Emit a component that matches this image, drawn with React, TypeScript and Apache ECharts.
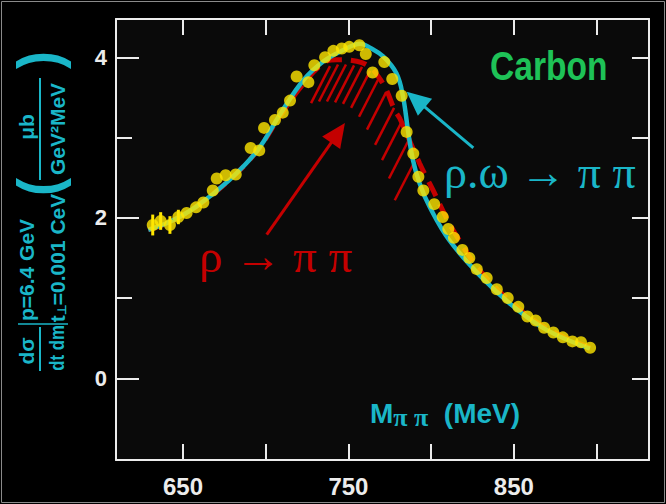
import React, { useEffect, useRef } from "react";
import * as echarts from "echarts";

// ---- measured data (M_pipi in MeV, cross section) ----
const massPoints = [
  631.7, 636.5, 642.1, 647.2, 652.2, 657.9, 662.3, 668.0, 670.4, 675.8, 681.9,
  690.9, 696.1, 699.0, 705.6, 710.3, 714.7, 718.7, 725.8, 729.4, 735.9, 740.9,
  746.0, 750.5, 756.6, 760.5, 764.6, 771.7, 776.5, 782.2, 785.2, 789.2, 792.3,
  795.3, 801.9, 807.0, 810.4, 813.8, 818.9, 823.1, 827.6, 833.6, 839.7, 846.3,
  852.7, 858.2, 863.2, 868.3, 873.9, 879.6, 885.4, 890.6, 896.1,
];
const crossSection = [
  1.91, 1.96, 1.91, 2.01, 2.06, 2.13, 2.19, 2.34, 2.49, 2.53, 2.54,
  2.87, 2.84, 3.12, 3.22, 3.31, 3.46, 3.76, 3.69, 3.90, 4.0, 4.08,
  4.11, 4.13, 4.15, 4.04, 3.81, 3.94, 3.73, 3.52, 3.07, 2.80, 2.51,
  2.34, 2.17, 2.01, 1.86, 1.75, 1.60, 1.50, 1.36, 1.25, 1.11, 1.00,
  0.89, 0.77, 0.72, 0.63, 0.57, 0.51, 0.46, 0.45, 0.38,
];
const errorMass = [631.7, 636.5, 642.1, 647.2];
const errorValue = [1.91, 1.96, 1.91, 2.01];
const errorSize = [0.13, 0.11, 0.11, 0.09];

// rho.omega -> pi pi fit (teal)
const fitMass = [629, 642, 658, 678, 695, 709, 723, 735, 747, 757, 763, 771, 779, 783, 786, 789, 793, 799, 811, 830, 850, 870, 896];
const fitValues = [1.85, 1.95, 2.14, 2.47, 2.84, 3.30, 3.72, 3.95, 4.09, 4.17, 4.12, 4.01, 3.80, 3.51, 3.09, 2.72, 2.43, 2.14, 1.72, 1.27, 0.89, 0.60, 0.37];

// rho -> pi pi only (red dashed)
const rhoMass = [629, 642, 658, 678, 695, 709, 722, 735, 743, 755, 763, 768, 773, 778, 781, 787, 793, 797, 801, 809, 817, 830, 850, 870, 896];
const rhoValues = [1.85, 1.95, 2.14, 2.47, 2.84, 3.28, 3.65, 3.93, 3.97, 3.95, 3.88, 3.76, 3.59, 3.34, 3.24, 2.96, 2.68, 2.51, 2.35, 2.01, 1.72, 1.33, 0.92, 0.62, 0.38];

// hatch line tops (red shaded area)
const hatchMass = [738.9, 743.7, 748.5, 753.4, 758.2, 763.1, 767.9, 772.7, 777.6, 781.8, 786.0, 789.5];
const hatchTop = [3.89, 3.91, 3.91, 3.90, 3.88, 3.83, 3.72, 3.56, 3.37, 3.18, 2.95, 2.68];

// annotation arrows [fromX, fromY, toX, toY]
const rhoArrow = [700.6, 1.79, 747.9, 3.18];
const rhoOmegaArrow = [825.5, 2.87, 785.2, 3.57];

const xTicks = [650, 700, 750, 800, 850, 900];
const xLabels = [650, 750, 850];
const yTicks = [0, 1, 2, 3, 4];
const yLabels = [0, 2, 4];
const xMin = 609.5;
const xMax = 931.7;
const yMin = -1.018;
const yMax = 4.477;

const TEAL = "#1ab6c8";
const RED = "#c40000";
const YELLOW = "#ffe600";
const GREEN = "#1ec257";
const WHITE = "#ececec";
const SANS = "'Liberation Sans', Arial, Helvetica, sans-serif";
const SERIF = "'Liberation Serif', 'Times New Roman', 'DejaVu Serif', serif";

function arrowRender(color: string) {
  return (params: any, api: any) => {
    const p1 = api.coord([api.value(0), api.value(1)]);
    const p2 = api.coord([api.value(2), api.value(3)]);
    const dx = p2[0] - p1[0];
    const dy = p2[1] - p1[1];
    const len = Math.sqrt(dx * dx + dy * dy);
    const ux = dx / len;
    const uy = dy / len;
    const L = 24;
    const W = 11;
    const bx = p2[0] - ux * L;
    const by = p2[1] - uy * L;
    return {
      type: "group",
      children: [
        { type: "line", shape: { x1: p1[0], y1: p1[1], x2: bx + ux * 2, y2: by + uy * 2 }, style: { stroke: color, lineWidth: 3 } },
        {
          type: "polygon",
          shape: { points: [[p2[0], p2[1]], [bx - uy * W, by + ux * W], [bx + uy * W, by - ux * W]] },
          style: { fill: color },
        },
      ],
    };
  };
}

const rot = Math.PI / 2;

export default function App() {
  const ref = useRef<HTMLDivElement>(null);
  useEffect(() => {
    if (!ref.current) return;
    const chart = echarts.init(ref.current, undefined, { renderer: "svg" });
    const axisLineStyle = { color: WHITE, width: 2 };
    const baseX = { type: "value", min: xMin, max: xMax, splitLine: { show: false } };
    const baseY = { type: "value", min: yMin, max: yMax, splitLine: { show: false } };
    const option: any = {
      animation: false,
      backgroundColor: "#000000",
      grid: { left: 116, top: 19, width: 533, height: 441, show: true, backgroundColor: "#0a0a0a", borderWidth: 0 },
      xAxis: [
        {
          ...baseX,
          position: "bottom",
          axisLine: { show: true, onZero: false, lineStyle: axisLineStyle },
          axisTick: { show: true, inside: true, length: 16, customValues: xTicks, lineStyle: axisLineStyle },
          axisLabel: {
            show: true,
            customValues: xLabels,
            formatter: (v: number) => String(v),
            color: WHITE,
            fontSize: 24,
            fontWeight: "bold",
            fontFamily: SANS,
            margin: 14,
          },
        },
        {
          ...baseX,
          position: "top",
          axisLine: { show: true, onZero: false, lineStyle: axisLineStyle },
          axisTick: { show: true, inside: true, length: 16, customValues: xTicks, lineStyle: axisLineStyle },
          axisLabel: { show: false },
        },
      ],
      yAxis: [
        {
          ...baseY,
          position: "left",
          axisLine: { show: true, onZero: false, lineStyle: axisLineStyle },
          axisTick: { show: true, inside: true, length: 16, customValues: yTicks, lineStyle: axisLineStyle },
          axisLabel: {
            show: true,
            customValues: yLabels,
            formatter: (v: number) => String(v),
            color: WHITE,
            fontSize: 22,
            fontWeight: "bold",
            fontFamily: SANS,
            margin: 9,
          },
        },
        {
          ...baseY,
          position: "left",
          axisLine: { show: false },
          axisTick: { show: true, inside: true, length: 23, customValues: yLabels, lineStyle: axisLineStyle },
          axisLabel: { show: false },
        },
        {
          ...baseY,
          position: "right",
          axisLine: { show: true, onZero: false, lineStyle: axisLineStyle },
          axisTick: { show: true, inside: true, length: 17, customValues: yTicks, lineStyle: axisLineStyle },
          axisLabel: { show: false },
        },
      ],
      series: [
        {
          type: "custom",
          name: "hatch",
          z: 1,
          data: hatchMass.map((m, i) => [m, hatchTop[i]]),
          encode: { x: 0, y: 1 },
          renderItem: (params: any, api: any) => {
            const p = api.coord([api.value(0), api.value(1)]);
            return {
              type: "line",
              shape: { x1: p[0], y1: p[1], x2: p[0] - 19, y2: p[1] + 37 },
              style: { stroke: RED, lineWidth: 2.5 },
            };
          },
        },
        {
          type: "line",
          name: "rho",
          z: 2,
          smooth: 0.4,
          showSymbol: false,
          data: rhoMass.map((m, i) => [m, rhoValues[i]]),
          lineStyle: { color: RED, width: 5, type: [16, 9] },
        },
        {
          type: "line",
          name: "fit",
          z: 3,
          smooth: 0.4,
          showSymbol: false,
          data: fitMass.map((m, i) => [m, fitValues[i]]),
          lineStyle: { color: TEAL, width: 4.5 },
        },
        {
          type: "custom",
          name: "errors",
          z: 4,
          data: errorMass.map((m, i) => [m, errorValue[i], errorSize[i]]),
          encode: { x: 0, y: 1 },
          renderItem: (params: any, api: any) => {
            const lo = api.coord([api.value(0), api.value(1) - api.value(2)]);
            const hi = api.coord([api.value(0), api.value(1) + api.value(2)]);
            return { type: "line", shape: { x1: lo[0], y1: lo[1], x2: hi[0], y2: hi[1] }, style: { stroke: YELLOW, lineWidth: 3 } };
          },
        },
        {
          type: "scatter",
          name: "data",
          z: 5,
          symbol: "circle",
          symbolSize: 12,
          data: massPoints.map((m, i) => [m, crossSection[i]]),
          itemStyle: { color: YELLOW },
        },
        {
          type: "custom",
          name: "rhoArrow",
          z: 6,
          data: [rhoArrow],
          encode: { x: [0, 2], y: [1, 3] },
          renderItem: arrowRender(RED),
        },
        {
          type: "custom",
          name: "rhoOmegaArrow",
          z: 6,
          data: [rhoOmegaArrow],
          encode: { x: [0, 2], y: [1, 3] },
          renderItem: arrowRender(TEAL),
        },
      ],
      graphic: [
        { type: "rect", shape: { x: 1.5, y: 1.5, width: 663, height: 501 }, style: { fill: "none", stroke: "#8a8a8a", lineWidth: 1 }, z: 0, silent: true },
        // annotations
        {
          type: "text", x: 490, y: 66, scaleX: 0.84,
          style: { text: "Carbon", fill: GREEN, font: `bold 40px ${SANS}`, textAlign: "left", textVerticalAlign: "middle" },
        },
        {
          type: "text", x: 199, y: 256,
          style: { text: "ρ → π π", fill: RED, font: `47px ${SERIF}`, textAlign: "left", textVerticalAlign: "middle" },
        },
        {
          type: "text", x: 444, y: 172,
          style: { text: "ρ.ω → π π", fill: TEAL, font: `46px ${SERIF}`, textAlign: "left", textVerticalAlign: "middle" },
        },
        {
          type: "text", x: 370, y: 413,
          style: {
            text: "{m|M}{p|π π}{m|  (MeV)}",
            textAlign: "left", textVerticalAlign: "middle",
            rich: {
              m: { fill: TEAL, font: `bold 28px ${SANS}` },
              p: { fill: TEAL, font: `bold 26px ${SERIF}`, padding: [8, 0, 0, 0] },
            },
          },
        },
        // rotated y-axis title (reads bottom to top)
        { type: "text", x: 26, y: 351, rotation: rot, style: { text: "dσ", fill: TEAL, font: `bold 21px ${SANS}`, textAlign: "center", textVerticalAlign: "middle" } },
        { type: "line", shape: { x1: 40, y1: 327, x2: 40, y2: 371 }, style: { stroke: TEAL, lineWidth: 2 } },
        { type: "text", x: 57, y: 348, rotation: rot, scaleX: 0.8, style: { text: "dt dm", fill: TEAL, font: `bold 21px ${SANS}`, textAlign: "center", textVerticalAlign: "middle" } },
        { type: "line", shape: { x1: 18, y1: 324, x2: 68, y2: 324 }, style: { stroke: TEAL, lineWidth: 1.5 } },
        { type: "text", x: 26, y: 270, rotation: rot, style: { text: "p=6.4 GeV", fill: TEAL, font: `bold 21px ${SANS}`, textAlign: "center", textVerticalAlign: "middle" } },
        {
          type: "text", x: 57, y: 258, rotation: rot,
          style: {
            text: "{a|t}{s|⊥}{a|=0.001 CeV}",
            textAlign: "center", textVerticalAlign: "middle",
            rich: {
              a: { fill: TEAL, font: `bold 21px ${SANS}` },
              s: { fill: TEAL, font: `bold 12px ${SANS}`, padding: [10, 0, 0, 0] },
            },
          },
        },
        { type: "text", x: 39, y: 187, rotation: rot, scaleY: 1.1, style: { text: "(", fill: TEAL, font: `bold 54px ${SANS}`, textAlign: "center", textVerticalAlign: "middle" } },
        { type: "text", x: 26, y: 127, rotation: rot, style: { text: "μb", fill: TEAL, font: `bold 21px ${SANS}`, textAlign: "center", textVerticalAlign: "middle" } },
        { type: "line", shape: { x1: 40, y1: 78, x2: 40, y2: 180 }, style: { stroke: TEAL, lineWidth: 2 } },
        { type: "text", x: 57, y: 129, rotation: rot, style: { text: "GeV²MeV", fill: TEAL, font: `bold 21px ${SANS}`, textAlign: "center", textVerticalAlign: "middle" } },
        { type: "text", x: 39, y: 60, rotation: rot, scaleY: 1.1, style: { text: ")", fill: TEAL, font: `bold 54px ${SANS}`, textAlign: "center", textVerticalAlign: "middle" } },
      ],
    };
    chart.setOption(option);
    return () => chart.dispose();
  }, []);
  return <div ref={ref} style={{ position: "fixed", left: 0, top: 0, width: 666, height: 504 }} />;
}
